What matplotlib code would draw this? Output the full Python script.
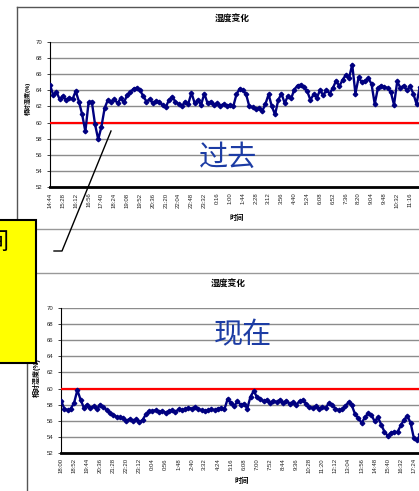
import numpy as np
import matplotlib
matplotlib.use('Agg')
import matplotlib.pyplot as plt
from matplotlib.patches import Rectangle

plt.rcParams['font.family'] = ['Liberation Sans', 'Noto Sans CJK SC', 'DejaVu Sans']

W, H = 419, 491  # canvas size in pixels

# past period: one reading every 11 min starting 14:44
past_step = 11
past_rh = [64.7, 63.4, 63.8, 62.9, 63.3, 62.8, 63.1, 62.9, 63.9, 62.6,
           61.0, 58.9, 62.5, 62.6, 59.8, 57.9, 59.5, 61.8, 62.8, 62.6,
           62.9, 62.4, 63.0, 62.5, 63.4, 63.8, 64.2, 64.3, 64.0, 63.3,
           62.6, 62.9, 62.4, 62.7, 62.5, 62.2, 61.9, 62.8, 63.2, 62.6,
           62.3, 62.0, 62.6, 62.3, 63.7, 62.4, 62.8, 62.2, 63.6, 62.4,
           62.6, 62.2, 62.4, 62.1, 62.3, 62.0, 62.2, 62.0, 63.5, 64.2,
           64.0, 63.5, 62.0, 61.9, 61.7, 61.8, 61.4, 62.3, 63.5, 62.0,
           61.0, 62.8, 63.6, 62.4, 63.3, 63.0, 64.1, 64.6, 64.7, 64.4,
           63.9, 62.8, 63.5, 63.1, 64.0, 63.4, 64.0, 63.6, 64.3, 65.2,
           64.5, 65.3, 65.9, 65.5, 67.2, 63.6, 65.6, 65.0, 65.2, 65.5,
           64.8, 62.3, 64.3, 64.6, 64.4, 64.3, 63.8, 62.2, 65.1, 64.3,
           64.6, 64.0, 64.5, 63.6, 62.3, 64.4, 64.0]
past_ticks = ['14:44', '15:28', '16:12', '16:56', '17:40', '18:24', '19:08',
              '19:52', '20:36', '21:20', '22:04', '22:48', '23:32', '0:16',
              '1:00', '1:44', '2:28', '3:12', '3:56', '4:40', '5:24', '6:08',
              '6:52', '7:36', '8:20', '9:04', '9:48', '10:32', '11:16']
past_tick_step = 44

# present period: one reading every 13 min starting 18:00
now_step = 13
now_rh = [58.5, 57.5, 57.3, 57.5, 58.2, 59.8, 58.6, 57.6, 58.0, 57.6,
          57.8, 57.5, 58.0, 57.7, 57.3, 57.0, 56.7, 56.5, 56.4, 56.3,
          56.0, 56.2, 55.9, 56.2, 55.8, 56.1, 56.8, 57.2, 57.2, 57.3,
          57.1, 57.2, 57.0, 57.2, 57.3, 57.1, 57.4, 57.3, 57.4, 57.6,
          57.5, 57.7, 57.4, 57.3, 57.2, 57.3, 57.4, 57.3, 57.5, 57.6,
          57.4, 58.7, 58.2, 57.8, 58.4, 58.0, 58.1, 57.5, 59.0, 59.7,
          58.9, 58.7, 58.4, 58.6, 58.2, 58.5, 58.3, 58.6, 58.2, 58.5,
          58.1, 58.3, 58.0, 58.4, 58.6, 58.1, 57.7, 57.6, 57.8, 57.5,
          57.7, 57.6, 58.2, 58.0, 57.5, 57.3, 57.4, 57.8, 58.3, 57.9,
          56.8, 56.3, 55.7, 56.4, 56.9, 56.7, 55.9, 56.4, 55.5, 54.6,
          54.1, 54.5, 54.6, 54.6, 55.4, 56.1, 56.6, 55.7, 53.8, 53.6,
          54.3]
now_ticks = ['18:00', '18:52', '19:44', '20:36', '21:28', '22:20', '23:12',
             '0:04', '0:56', '1:48', '2:40', '3:32', '4:24', '5:16', '6:08',
             '7:00', '7:52', '8:44', '9:36', '10:28', '11:20', '12:12',
             '13:04', '13:56', '14:48', '15:40', '16:32', '17:24']
now_tick_step = 52

limit = 60  # humidity limit line


def px_rect(left, top, right, bottom):
    return [left / W, 1 - bottom / H, (right - left) / W, (bottom - top) / H]


def draw_panel(fig, rect, rh, step, ticks, tick_step, x_end):
    ax = fig.add_axes(rect)
    ax.set_facecolor('none')
    t = np.arange(len(rh)) * step
    ax.set_xlim(0, x_end)
    ax.set_ylim(52, 70)
    ax.set_yticks(np.arange(52, 71, 2))
    ax.yaxis.grid(True, color='#8c8c8c', lw=1.0)
    ax.set_axisbelow(True)
    ax.axhline(limit, color='#ff0000', lw=1.6, zorder=3)
    ax.plot(t, rh, color='#000080', lw=1.7, marker='D', ms=2.3, zorder=4)
    ax.set_xticks(np.arange(len(ticks)) * tick_step)
    ax.set_xticklabels(ticks, rotation=90)
    ax.tick_params(axis='x', length=0, pad=4, labelsize=4.3, colors='#222222')
    ax.tick_params(axis='y', length=2.5, width=0.6, pad=3, labelsize=4.3,
                   colors='#222222')
    for s in ['top', 'right']:
        ax.spines[s].set_visible(False)
    ax.spines['left'].set_linewidth(0.8)
    ax.spines['bottom'].set_linewidth(2.0)
    ax.spines['bottom'].set_zorder(5)
    return ax


fig = plt.figure(figsize=(W / 100, H / 100), dpi=100)

draw_panel(fig, px_rect(50, 42, 430, 187), past_rh, past_step,
           past_ticks, past_tick_step, (430 - 50) / 12.86 * 44)
draw_panel(fig, px_rect(61, 308.3, 430, 452.7), now_rh, now_step,
           now_ticks, now_tick_step, (430 - 61) / 13.07 * 52)

# overlay in pixel coordinates for frames, labels and the callout
ov = fig.add_axes([0, 0, 1, 1])
ov.set_xlim(0, W)
ov.set_ylim(H, 0)
ov.axis('off')
ov.patch.set_alpha(0)

# chart frames
ov.plot([17, 430], [7, 7], color='#555555', lw=1.0)
ov.plot([17, 17], [7, 228], color='#555555', lw=1.0)
ov.plot([17, 430], [228.5, 228.5], color='#999999', lw=1.0)
ov.plot([27, 430], [273, 273], color='#999999', lw=1.0)
ov.plot([27, 27], [273, 495], color='#555555', lw=1.0)

# titles and axis labels
ov.text(232, 19, '湿度变化', ha='center', va='center', fontsize=6.3,
        fontweight='bold')
ov.text(228, 284, '湿度变化', ha='center', va='center', fontsize=6.3,
        fontweight='bold')
ov.text(237, 218, '时间', ha='center', va='center', fontsize=5.2,
        fontweight='bold')
ov.text(242, 481, '时间', ha='center', va='center', fontsize=5.2,
        fontweight='bold')
ov.text(28, 98, '相对湿度(%)', ha='center', va='center', fontsize=4.3,
        rotation=90, fontweight='bold')
ov.text(37, 378, '相对湿度(%)', ha='center', va='center', fontsize=5.0,
        rotation=90, fontweight='bold')

ov.text(228, 158, '过去', ha='center', va='center', fontsize=21,
        color='#1c3ca4')
ov.text(243, 335, '现在', ha='center', va='center', fontsize=21,
        color='#1c3ca4')

# callout box and pointer
ov.add_patch(Rectangle((-10, 220), 46, 143, facecolor='#ffff00',
                       edgecolor='black', lw=1.5, zorder=6))
ov.text(9, 243, '时间', ha='right', va='center', fontsize=17, zorder=7)
ov.plot([54, 62, 111], [251, 251, 131], color='black', lw=1.0, zorder=6)

fig.savefig('out.png', dpi=100)
